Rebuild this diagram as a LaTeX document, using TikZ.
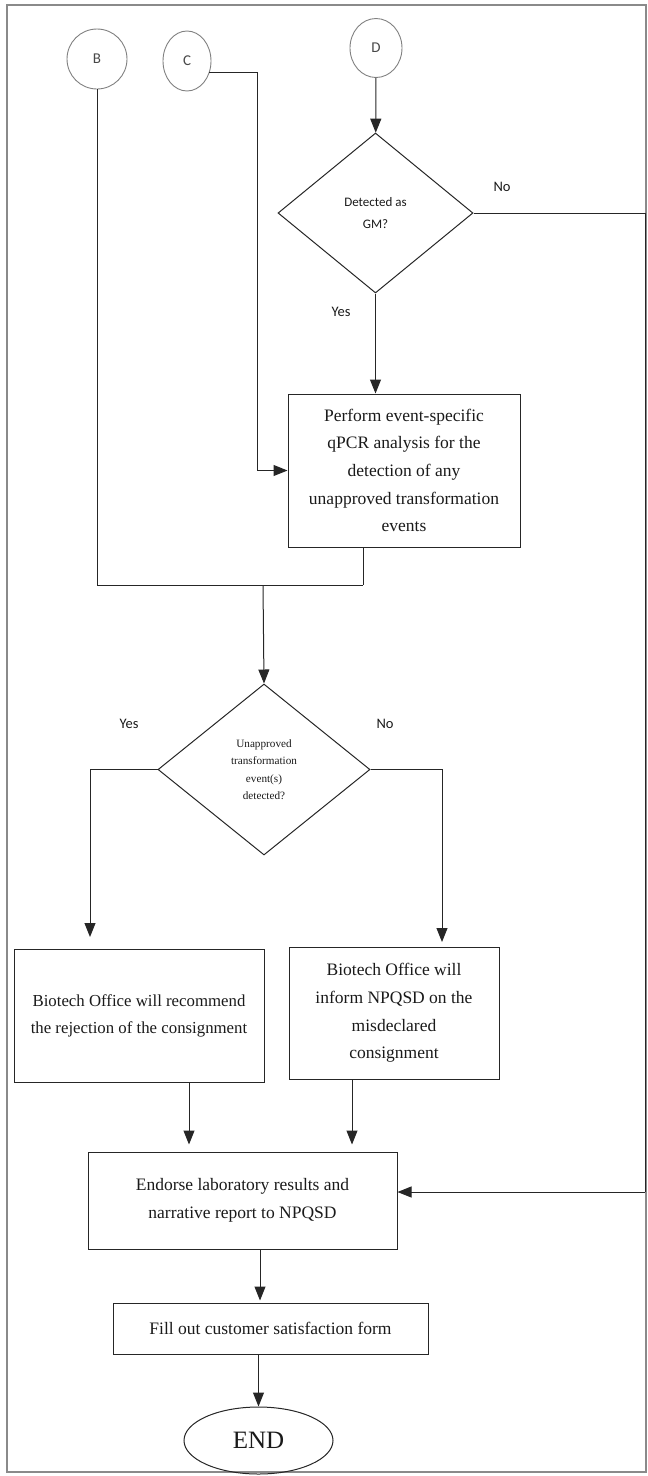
\documentclass[tikz,border=0pt]{standalone}
\usepackage{fontspec}
\setmainfont{Liberation Serif}
\newfontfamily\labelfont{Carlito}
\usepackage{xcolor}
\definecolor{CLine}{HTML}{262626}
\definecolor{CFrame}{HTML}{8A8A8A}
\definecolor{CCircle}{HTML}{808080}
\definecolor{CText}{HTML}{1A1A1A}
\usepackage{tikz}
\usetikzlibrary{arrows.meta,shapes.geometric}
\tikzstyle{boxNode}=[rectangle, draw=CLine, line width=1pt, align=center,
  inner sep=0pt, text=CText, font=\fontsize{17.5}{27.7}\selectfont]
\tikzstyle{decisionNode}=[diamond, draw=CLine, line width=1pt, align=center,
  inner sep=0pt, text=CText]
\tikzstyle{connectorNode}=[ellipse, draw=CCircle, line width=0.9pt, inner sep=0pt,
  text=CText!80, font=\labelfont\fontsize{15}{17}\selectfont]
\tikzstyle{endNode}=[ellipse, draw=CLine, line width=1pt, inner sep=0pt,
  text=CText, font=\fontsize{25}{28}\selectfont]
\tikzstyle{branchLabel}=[text=CText, font=\labelfont\fontsize{14.5}{17}\selectfont]
\tikzstyle{ln}=[line width=1pt, draw=CLine]
\tikzstyle{arr}=[-{Triangle[length=14pt,width=11pt]}, line width=1pt, draw=CLine]

\begin{document}
\begin{tikzpicture}[x=1pt, y=-1pt]
\useasboundingbox (0,0) rectangle (648,1476);
\draw[CFrame, line width=1.3pt] (7,5) rectangle (646,1472);
% off-page connectors
\node[connectorNode, minimum width=60pt, minimum height=60pt] (b) at (97,59) {B};
\node[connectorNode, minimum width=48pt, minimum height=60pt] (c) at (187,61) {C};
\node[connectorNode, minimum width=52pt, minimum height=59pt] (d) at (376,48) {D};
% decisions
\node[decisionNode, minimum width=195pt, minimum height=160pt,
  font=\labelfont\fontsize{13}{22}\selectfont] (gm) at (375.5,213) {Detected as\\GM?};
\node[decisionNode, minimum width=212pt, minimum height=171pt,
  font=\fontsize{11.2}{17.5}\selectfont] (unapp) at (264,769.5)
  {Unapproved\\transformation\\event(s)\\detected?};
% process boxes
\node[boxNode, minimum width=232pt, minimum height=153pt] (perform) at (404,470.5)
  {Perform event-specific\\qPCR analysis for the\\detection of any\\unapproved transformation\\events};
\node[boxNode, minimum width=250pt, minimum height=133pt,
  font=\fontsize{16.8}{27}\selectfont] (reject) at (139,1015.5)
  {Biotech Office will recommend\\the rejection of the consignment};
\node[boxNode, minimum width=210pt, minimum height=132pt] (inform) at (394,1013)
  {Biotech Office will\\inform NPQSD on the\\misdeclared\\consignment};
\node[boxNode, minimum width=309pt, minimum height=97pt] (endorse) at (242.5,1200.5)
  {Endorse laboratory results and\\narrative report to NPQSD};
\node[boxNode, minimum width=315pt, minimum height=51pt] (fill) at (270.5,1328.5)
  {Fill out customer satisfaction form};
\node[endNode, minimum width=149pt, minimum height=67pt] (end) at (258.5,1440.5) {END};
% branch labels
\node[branchLabel] (gmYes) at (341,312) {Yes};
\node[branchLabel] (gmNo) at (502,187) {No};
\node[branchLabel] (unYes) at (129,724) {Yes};
\node[branchLabel] (unNo) at (385,724) {No};
% bend points
\coordinate (cBend) at (257,470.5);
\coordinate (mergeR) at (363,585);
\coordinate (merge) at (263,585);
\coordinate (noRight) at (645,1192);
\coordinate (yesTip) at (90,937);
\coordinate (noTip) at (442,942);
% connectors
\draw[arr] (d) -- (gm);
\draw[arr] (gm.south) -- (gm.south |- perform.north);
\draw[ln] (gm.east) -| (noRight);
\draw[arr] (noRight) -- (noRight -| endorse.east);
\draw[ln] (c.-28) -| (cBend);
\draw[arr] (cBend) -- (perform.west);
\draw[ln] (b.south) |- (mergeR);
\draw[ln] (mergeR |- perform.south) -- (mergeR);
\draw[arr] (merge) -- (unapp.north);
\draw[arr] (unapp.west) -| (yesTip);
\draw[arr] (unapp.east) -| (noTip);
\draw[arr, shorten >=7pt] ([xshift=50pt]reject.south) -- ([xshift=50pt]reject.south |- endorse.north);
\draw[arr, shorten >=7pt] ([xshift=-42pt]inform.south) -- ([xshift=-42pt]inform.south |- endorse.north);
\draw[arr, shorten >=2pt] ([xshift=17.5pt]endorse.south) -- ([xshift=17.5pt]endorse.south |- fill.north);
\draw[arr] (fill.south -| end.north) -- (end.north);
\end{tikzpicture}
\end{document}
